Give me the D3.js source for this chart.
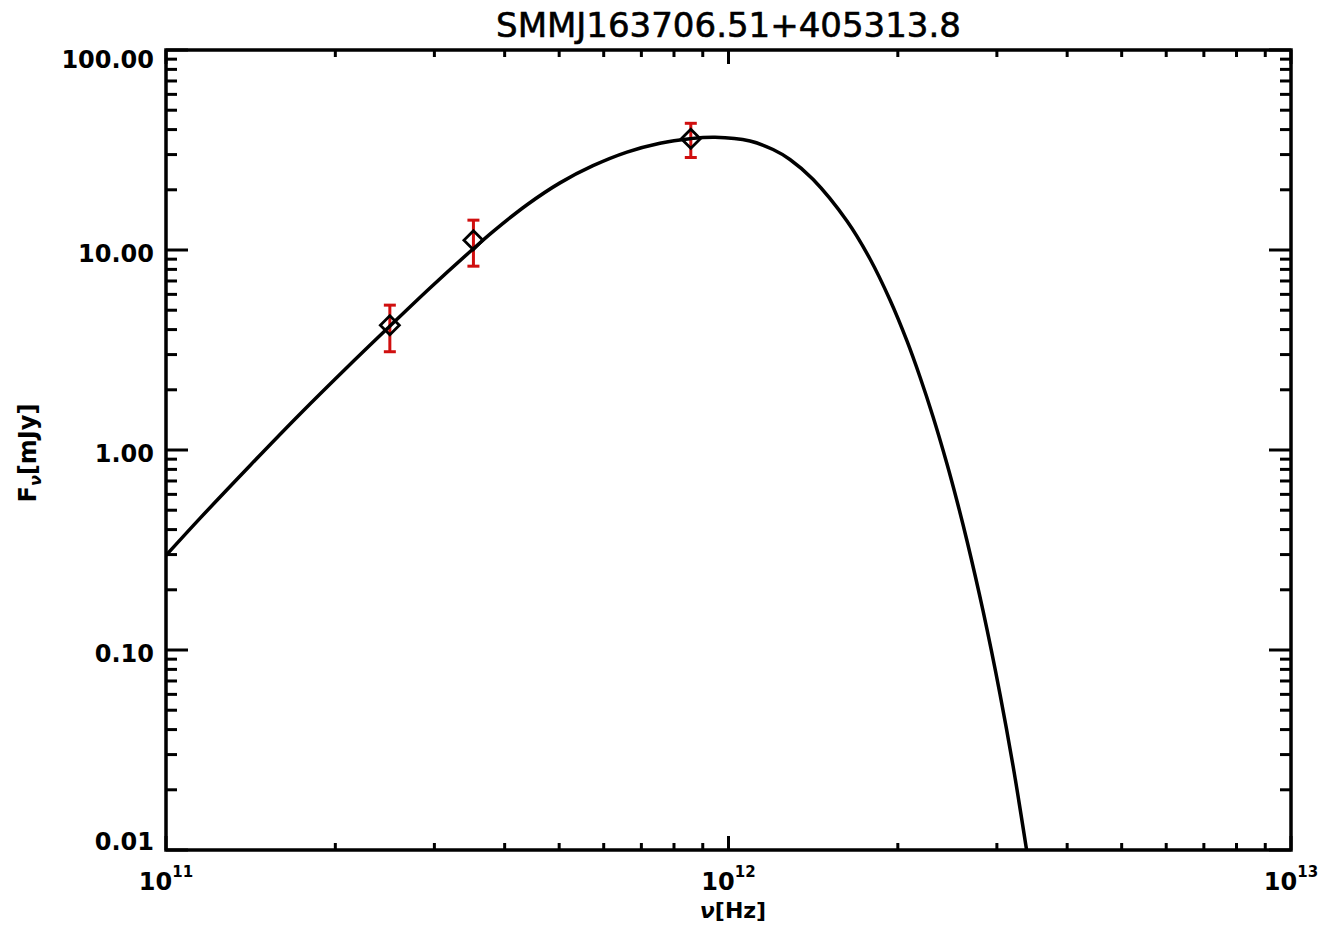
<!DOCTYPE html>
<html>
<head>
<meta charset="utf-8">
<script src="https://cdn.jsdelivr.net/npm/d3@7"></script>
<style>
  html, body { margin: 0; padding: 0; background: #fff; }
  svg { display: block; }
  text { font-family: "DejaVu Sans", sans-serif; fill: #000; }
</style>
</head>
<body>
<svg id="chart" width="1341" height="941"></svg>
<script>
// Source name
const titleText = "SMMJ163706.51+405313.8";

// Fitted SED model: frequency [Hz] and flux density [mJy]
const modelNu = [
  1.000e11, 1.149e11, 1.411e11, 1.731e11, 2.124e11, 2.491e11, 2.947e11,
  3.514e11, 3.813e11, 4.384e11, 5.017e11, 5.742e11, 6.600e11, 7.554e11,
  8.540e11, 9.463e11, 1.092e12, 1.200e12, 1.286e12, 1.413e12,
  1.624e12, 1.785e12, 1.937e12, 2.077e12, 2.190e12, 2.310e12, 2.446e12,
  2.548e12, 2.655e12, 2.835e12, 3.039e12, 3.205e12, 3.388e12
];
const modelFlux = [
  0.297, 0.455, 0.837, 1.514, 2.676, 4.121, 6.457,
  10.12, 12.36, 16.84, 21.66, 26.39, 30.87, 34.20,
  36.02, 36.64, 35.08, 31.80, 28.35, 22.57,
  13.96, 9.016, 5.623, 3.499, 2.317, 1.467, 0.851,
  0.556, 0.3508, 0.1567, 0.06005, 0.02636, 0.0100
];

// Submillimetre photometry: frequency [Hz], flux [mJy], 1-sigma error [mJy]
const obsNu   = [2.50e11, 3.52e11, 8.57e11];
const obsFlux = [4.2, 11.2, 36.0];
const obsErr  = [1.1, 2.9, 7.0];

// Axis ticks and labels
const yTickValues = [0.01, 0.1, 1, 10, 100];
const yTickLabels = ["0.01", "0.10", "1.00", "10.00", "100.00"];
const xTickValues = [1e11, 1e12, 1e13];
const xTickExps   = ["11", "12", "13"];

const plotL = 166, plotR = 1291, plotT = 50, plotB = 850;

const svg = d3.select("#chart");

const x = d3.scaleLog().domain([1e11, 1e13]).range([plotL, plotR]);
const y = d3.scaleLog().domain([0.01, 100]).range([plotB, plotT]);

// minor ticks at 2..9 of each decade
function minorTicks(lo, hi) {
  const out = [];
  for (let d = lo; d < hi * 0.999; d *= 10) {
    for (let k = 2; k <= 9; k++) out.push(d * k);
  }
  return out;
}
const xMinor = minorTicks(1e11, 1e13);
const yMinor = minorTicks(0.01, 100);

svg.append("defs").append("clipPath").attr("id", "plotClip")
  .append("rect").attr("x", plotL).attr("y", plotT)
  .attr("width", plotR - plotL).attr("height", plotB - plotT);

const ticks = svg.append("g").attr("stroke", "#000").attr("stroke-width", 3);

// x ticks, bottom and top, pointing inward
[[plotB, -1], [plotT, 1]].forEach(([yy, dir]) => {
  ticks.selectAll(null).data(xTickValues).join("line")
    .attr("x1", d => x(d)).attr("x2", d => x(d))
    .attr("y1", yy).attr("y2", yy + dir * 14);
  ticks.selectAll(null).data(xMinor).join("line")
    .attr("x1", d => x(d)).attr("x2", d => x(d))
    .attr("y1", yy).attr("y2", yy + dir * 7);
});
// y ticks, left and right, pointing inward
[[plotL, 1], [plotR, -1]].forEach(([xx, dir]) => {
  ticks.selectAll(null).data(yTickValues).join("line")
    .attr("y1", d => y(d)).attr("y2", d => y(d))
    .attr("x1", xx).attr("x2", xx + dir * 22);
  ticks.selectAll(null).data(yMinor).join("line")
    .attr("y1", d => y(d)).attr("y2", d => y(d))
    .attr("x1", xx).attr("x2", xx + dir * 11);
});

// frame
svg.append("rect")
  .attr("x", plotL).attr("y", plotT)
  .attr("width", plotR - plotL).attr("height", plotB - plotT)
  .attr("fill", "none").attr("stroke", "#000").attr("stroke-width", 3.5);

// y tick labels (kept inside the axis span at the ends)
svg.append("g").selectAll("text").data(yTickValues).join("text")
  .attr("x", 154)
  .attr("y", d => Math.min(plotB, Math.max(plotT + 18.3, y(d) + 11.7)))
  .attr("text-anchor", "end")
  .attr("font-size", 24).attr("font-weight", "bold")
  .text((d, i) => yTickLabels[i]);

// x tick labels as powers of ten
const xl = svg.append("g").selectAll("text").data(xTickValues).join("text")
  .attr("x", d => x(d))
  .attr("y", 890)
  .attr("text-anchor", "middle")
  .attr("font-weight", "bold");
xl.append("tspan").attr("font-size", 24).text("10");
xl.append("tspan").attr("font-size", 15).attr("dy", -13)
  .text((d, i) => xTickExps[i]);

// title
svg.append("text")
  .attr("x", (plotL + plotR) / 2).attr("y", 37)
  .attr("text-anchor", "middle")
  .attr("font-size", 34)
  .attr("stroke", "#000").attr("stroke-width", 0.6)
  .text(titleText);

// axis titles
const xt = svg.append("text")
  .attr("x", 733).attr("y", 918)
  .attr("text-anchor", "middle")
  .attr("font-size", 22).attr("font-weight", "bold");
xt.append("tspan").attr("font-style", "italic").text("ν");
xt.append("tspan").text("[Hz]");

const yt = svg.append("text")
  .attr("transform", "translate(36,453) rotate(-90)")
  .attr("text-anchor", "middle")
  .attr("font-size", 24).attr("font-weight", "bold");
yt.append("tspan").text("F");
yt.append("tspan").attr("font-size", 16).attr("font-style", "italic").attr("dy", 5).text("ν");
yt.append("tspan").attr("dy", -5).text("[mJy]");

// error bars
const eb = svg.append("g").attr("stroke", "#d00f0f").attr("stroke-width", 3);
eb.selectAll(null).data(obsNu).join("line")
  .attr("x1", d => x(d)).attr("x2", d => x(d))
  .attr("y1", (d, i) => y(obsFlux[i] + obsErr[i]))
  .attr("y2", (d, i) => y(obsFlux[i] - obsErr[i]));
eb.selectAll(null).data(obsNu).join("line")
  .attr("x1", d => x(d) - 6).attr("x2", d => x(d) + 6)
  .attr("y1", (d, i) => y(obsFlux[i] + obsErr[i]))
  .attr("y2", (d, i) => y(obsFlux[i] + obsErr[i]));
eb.selectAll(null).data(obsNu).join("line")
  .attr("x1", d => x(d) - 6).attr("x2", d => x(d) + 6)
  .attr("y1", (d, i) => y(obsFlux[i] - obsErr[i]))
  .attr("y2", (d, i) => y(obsFlux[i] - obsErr[i]));

// model curve
const line = d3.line()
  .x(d => x(d[0])).y(d => y(d[1]))
  .curve(d3.curveCatmullRom.alpha(0.5));
svg.append("path")
  .datum(modelNu.map((n, i) => [n, modelFlux[i]]))
  .attr("clip-path", "url(#plotClip)")
  .attr("fill", "none").attr("stroke", "#000").attr("stroke-width", 3.5)
  .attr("d", line);

// diamond markers
svg.append("g").selectAll("path").data(obsNu).join("path")
  .attr("transform", (d, i) => `translate(${x(d)},${y(obsFlux[i])})`)
  .attr("d", "M0,-9.5L9.5,0L0,9.5L-9.5,0Z")
  .attr("fill", "none").attr("stroke", "#000").attr("stroke-width", 2.8);
</script>
</body>
</html>
